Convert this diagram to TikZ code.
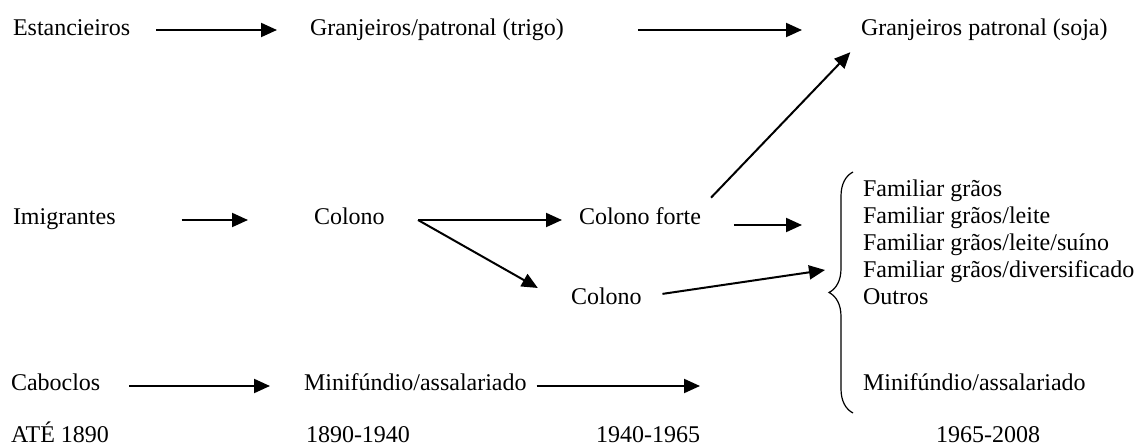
\documentclass[tikz,border=0pt]{standalone}
\usepackage{fontspec}
\setmainfont{Liberation Serif}
\usetikzlibrary{arrows.meta,decorations.pathreplacing}
\begin{document}
\begin{tikzpicture}[x=0.5pt, y=-0.5pt, line width=1pt,
  >={Triangle[length=8pt,width=7pt]},
  main/.style = {inner sep=0pt, anchor=base west, font=\fontsize{12pt}{13.5pt}\selectfont}]
\useasboundingbox (0,0) rectangle (1134,448);
\node[main] (estan) at (12,36) {Estancieiros};
\node[main] (trigo) at (309,36) {Granjeiros/patronal (trigo)};
\node[main] (soja) at (860,36) {Granjeiros patronal (soja)};
\node[main] (imig) at (12,225) {Imigrantes};
\node[main] (colono) at (313,225) {Colono};
\node[main] (forte) at (578,225) {Colono forte};
\node[main] (colono2) at (570,305) {Colono};
\node[main] (fam1) at (862,197) {Familiar grãos};
\node[main] (fam2) at (862,224) {Familiar grãos/leite};
\node[main] (fam3) at (862,251) {Familiar grãos/leite/suíno};
\node[main] (fam4) at (862,278) {Familiar grãos/diversificado};
\node[main] (outros) at (862,305) {Outros};
\node[main] (minib) at (862,390) {Minifúndio/assalariado};
\node[main] (cabo) at (10,390) {Caboclos};
\node[main] (mini) at (303,390) {Minifúndio/assalariado};
\node[main] (p1) at (10,442) {ATÉ 1890};
\node[main] (p2) at (305,442) {1890-1940};
\node[main] (p3) at (595,442) {1940-1965};
\node[main] (p4) at (935,442) {1965-2008};
\coordinate (r1) at (0,30);
\coordinate (r2) at (0,220);
\coordinate (r3) at (0,386);
\coordinate (split) at (418,220);
\coordinate (in1) at (802,225);
\coordinate (in2) at (825,270);
\coordinate (out) at (700,386);
% setas
\draw[->, shorten <=12.5pt, shorten >=16pt] (estan.east |- r1) -- (trigo.west |- r1);
\draw[->, shorten <=36.5pt, shorten >=29pt] (trigo.east |- r1) -- (soja.west |- r1);
\draw[->, shorten <=32.5pt, shorten >=32.5pt] (imig.east |- r2) -- (colono.west |- r2);
\draw[->, shorten >=8pt] (split) -- (forte.west |- split);
\draw[->, shorten >=18.5pt] (split) -- (colono2.south west);
\draw[->, shorten <=6.5pt, shorten >=7pt] (forte.north east) -- (soja.south west);
\draw[->, shorten <=16pt] (forte.east |- in1) -- (in1);
\draw[->, shorten <=10pt] (colono2.east) -- (in2);
\draw[->, shorten <=14pt, shorten >=16.5pt] (cabo.east |- r3) -- (mini.west |- r3);
\draw[->, shorten <=4.5pt] (mini.east |- out) -- (out);
% chave
\draw[decorate, decoration={brace, amplitude=12pt}, line width=0.6pt] (853,413) -- (853,172);
\end{tikzpicture}
\end{document}
